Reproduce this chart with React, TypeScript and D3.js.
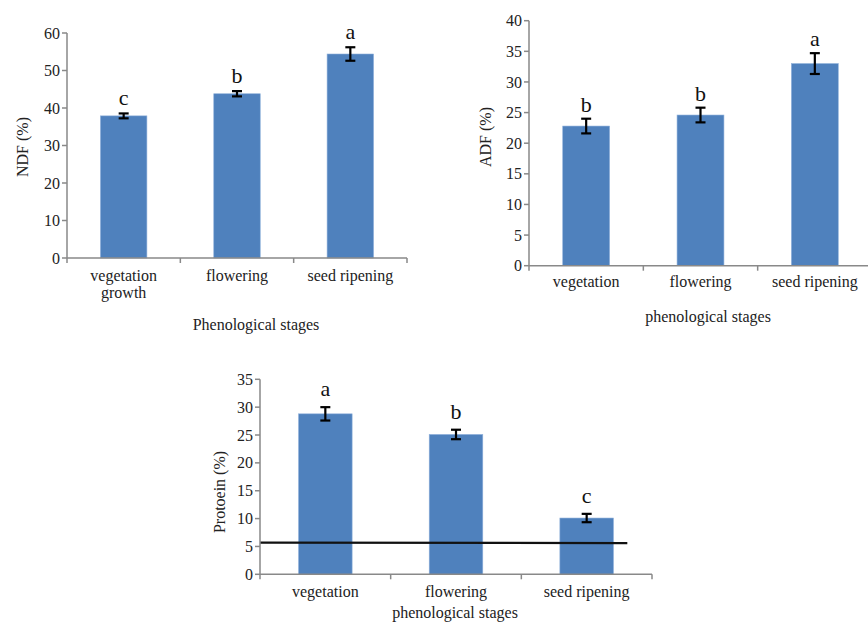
import React from "react";
import * as d3 from "d3";

// ---------- data ----------
const ndfCategories = [["vegetation", "growth"], ["flowering"], ["seed ripening"]];
const ndfValues = [37.9, 43.8, 54.4];
const ndfErrors = [0.65, 0.7, 1.8];
const ndfLetters = ["c", "b", "a"];
const ndfTicks = [0, 10, 20, 30, 40, 50, 60];

const adfCategories = [["vegetation"], ["flowering"], ["seed ripening"]];
const adfValues = [22.8, 24.6, 33.0];
const adfErrors = [1.2, 1.2, 1.7];
const adfLetters = ["b", "b", "a"];
const adfTicks = [0, 5, 10, 15, 20, 25, 30, 35, 40];

const protCategories = [["vegetation"], ["flowering"], ["seed ripening"]];
const protValues = [28.8, 25.1, 10.1];
const protErrors = [1.2, 0.85, 0.75];
const protLetters = ["a", "b", "c"];
const protTicks = [0, 5, 10, 15, 20, 25, 30, 35];
const protRefLine = [5.7, 5.6]; // value at start / end of the black line

const FONT = "'Liberation Serif', 'Times New Roman', serif";
const BAR = "#4F81BD";
const AXIS = "#898989";

type ChartProps = {
  cats: string[][];
  values: number[];
  errors: number[];
  letters: string[];
  ticks: number[];
  x0: number; x1: number; yTop: number; yBottom: number;
  tickLabelY: number;
  title: string; titleX: number; titleY: number;
  yLabel: string; yLabelX: number; yLabelY: number;
  letterGap: number;
  refLine?: number[];
  refEndFrac?: number;
};

function BarChart(p: ChartProps) {
  const maxV = p.ticks[p.ticks.length - 1];
  const y = d3.scaleLinear().domain([0, maxV]).range([p.yBottom, p.yTop]);
  const names = p.cats.map((c) => c.join(" "));
  const x = d3.scaleBand().domain(names).range([p.x0, p.x1]).paddingInner(0.59).paddingOuter(0.295);
  const step = x.step();
  const bw = x.bandwidth();
  const capW = 10;
  return (
    <g fontFamily={FONT}>
      {names.map((n, i) => (
        <rect key={n} x={x(n)} y={y(p.values[i])} width={bw} height={y(0) - y(p.values[i])} fill={BAR} stroke="#8EB0DA" strokeWidth={0.6} />
      ))}
      {p.refLine && (
        <line x1={p.x0} x2={p.x0 + (p.x1 - p.x0) * (p.refEndFrac || 1)} y1={y(p.refLine[0])} y2={y(p.refLine[1])} stroke="#111" strokeWidth={2.2} />
      )}
      {names.map((n, i) => {
        const cx = (x(n) as number) + bw / 2;
        const hi = y(p.values[i] + p.errors[i]);
        const lo = y(p.values[i] - p.errors[i]);
        return (
          <g key={"e" + n} stroke="#000" strokeWidth={2.2}>
            <line x1={cx} x2={cx} y1={hi} y2={lo} />
            <line x1={cx - capW / 2} x2={cx + capW / 2} y1={hi} y2={hi} />
            <line x1={cx - capW / 2} x2={cx + capW / 2} y1={lo} y2={lo} />
          </g>
        );
      })}
      {names.map((n, i) => (
        <text key={"l" + n} x={(x(n) as number) + bw / 2} y={y(p.values[i] + p.errors[i]) - p.letterGap} textAnchor="middle" fontSize={22} fill="#111">
          {p.letters[i]}
        </text>
      ))}
      <line x1={p.x0} x2={p.x0} y1={p.yTop} y2={p.yBottom} stroke={AXIS} strokeWidth={1.5} />
      {p.ticks.map((t) => (
        <g key={"t" + t}>
          <line x1={p.x0 - 5} x2={p.x0} y1={y(t)} y2={y(t)} stroke={AXIS} strokeWidth={1.5} />
          <text x={p.x0 - 7} y={y(t)} dy="0.35em" textAnchor="end" fontSize={16} fill="#222">{t}</text>
        </g>
      ))}
      <line x1={p.x0} x2={p.x1} y1={p.yBottom} y2={p.yBottom} stroke={AXIS} strokeWidth={1.5} />
      {d3.range(names.length + 1).map((k) => (
        <line key={"xt" + k} x1={p.x0 + k * step} x2={p.x0 + k * step} y1={p.yBottom} y2={p.yBottom + 5} stroke={AXIS} strokeWidth={1.5} />
      ))}
      {p.cats.map((lines, i) => (
        <text key={"c" + i} x={(x(names[i]) as number) + bw / 2} y={p.tickLabelY} textAnchor="middle" fontSize={16} fill="#222">
          {lines.map((ln, j) => (
            <tspan key={j} x={(x(names[i]) as number) + bw / 2} dy={j === 0 ? 0 : 17}>{ln}</tspan>
          ))}
        </text>
      ))}
      <text x={p.titleX} y={p.titleY} textAnchor="middle" fontSize={16} fill="#222">{p.title}</text>
      <text transform={`translate(${p.yLabelX},${p.yLabelY}) rotate(-90)`} textAnchor="middle" dy="0.35em" fontSize={16} fill="#222">{p.yLabel}</text>
    </g>
  );
}

export default function App() {
  return (
    <svg width={868} height={625} style={{ position: "absolute", left: 0, top: 0, background: "#fff" }}>
      <rect width={868} height={625} fill="#fff" />
      <BarChart cats={ndfCategories} values={ndfValues} errors={ndfErrors} letters={ndfLetters} ticks={ndfTicks}
        x0={67} x1={407} yTop={33} yBottom={258} tickLabelY={281}
        title="Phenological stages" titleX={256} titleY={330}
        yLabel="NDF (%)" yLabelX={22} yLabelY={147} letterGap={8} />
      <BarChart cats={adfCategories} values={adfValues} errors={adfErrors} letters={adfLetters} ticks={adfTicks}
        x0={529} x1={872} yTop={20.7} yBottom={265.7} tickLabelY={287}
        title="phenological stages" titleX={708} titleY={322}
        yLabel="ADF (%)" yLabelX={485} yLabelY={137} letterGap={7} />
      <BarChart cats={protCategories} values={protValues} errors={protErrors} letters={protLetters} ticks={protTicks}
        x0={260} x1={652} yTop={379.3} yBottom={574.3} tickLabelY={597}
        title="phenological stages" titleX={455} titleY={618}
        yLabel="Protoein (%)" yLabelX={219} yLabelY={492} letterGap={11}
        refLine={protRefLine} refEndFrac={0.937} />
    </svg>
  );
}
